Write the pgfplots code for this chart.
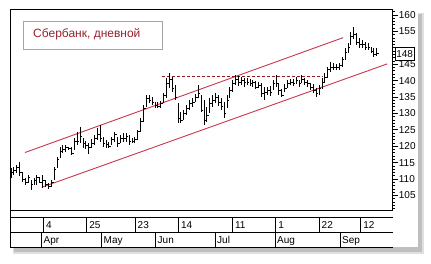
\documentclass[border=0pt]{standalone}
\usepackage{pgfplots}
\pgfplotsset{compat=1.18}
\usepackage{pgfplotstable}
\usepackage{fontspec}
\setmainfont{Liberation Sans}
\definecolor{chan}{RGB}{200,55,75}
\definecolor{dashc}{RGB}{140,30,30}
\definecolor{ttl}{RGB}{150,35,45}
\definecolor{boxg}{RGB}{165,165,165}
\pgfdeclareplotmark{ctick}{\pgfpathmoveto{\pgfqpoint{0pt}{0pt}}\pgfpathlineto{\pgfqpoint{2.2pt}{0pt}}\pgfusepathqstroke}
\pgfplotstableread{
i h l c
0 113.3 110.2 112.0
1 113.8 111.3 112.5
2 114.3 111.8 113.5
3 115.1 111.0 112.0
4 112.3 109.2 110.0
5 110.2 108.2 109.0
6 111.3 108.7 110.5
7 109.7 106.7 108.5
8 110.2 108.2 109.5
9 111.3 108.2 110.5
10 110.7 108.7 109.0
11 111.3 107.2 109.5
12 109.7 107.7 108.5
13 108.7 107.0 107.8
14 109.7 107.7 109.0
15 113.8 109.7 113.0
16 116.8 113.3 116.0
17 119.9 116.3 118.5
18 120.4 117.9 119.0
19 120.4 118.4 119.5
20 119.9 118.9 119.3
21 119.9 117.3 117.8
22 122.4 118.9 121.5
23 124.5 120.4 121.5
24 126.0 120.9 123.0
25 122.4 119.4 121.0
26 121.6 119.2 120.3
27 120.9 117.5 119.5
28 122.2 119.6 121.0
29 123.4 120.4 122.5
30 125.5 121.9 123.5
31 126.5 121.4 122.5
32 122.9 119.9 121.0
33 121.9 119.4 120.5
34 121.4 119.4 120.0
35 122.9 120.4 122.0
36 124.5 121.4 123.5
37 122.9 119.9 121.0
38 123.4 120.9 122.5
39 124.0 121.4 122.5
40 124.0 121.4 123.0
41 123.4 120.4 121.5
42 122.6 120.9 121.5
43 122.9 120.9 122.0
44 125.0 121.9 124.5
45 128.5 124.5 127.5
46 132.6 127.5 131.5
47 135.6 132.1 134.5
48 135.6 133.1 134.0
49 135.1 132.6 133.5
50 133.6 131.8 132.5
51 133.6 131.6 132.0
52 133.8 131.6 133.0
53 136.1 133.1 135.5
54 140.7 134.6 139.0
55 142.2 137.7 140.5
56 141.2 136.6 137.5
57 138.7 134.1 135.0
58 133.1 127.0 128.5
59 130.5 127.0 128.0
60 131.1 128.0 130.0
61 132.6 129.5 131.5
62 134.1 131.1 133.0
63 134.6 132.1 133.5
64 135.8 133.4 135.0
65 138.7 134.6 136.0
66 135.6 130.5 131.0
67 134.1 126.5 128.0
68 132.1 127.5 129.5
69 134.6 130.0 133.0
70 135.6 132.1 134.0
71 136.1 133.1 135.0
72 135.6 132.4 133.5
73 134.6 131.1 132.0
74 133.6 128.5 130.0
75 135.6 131.6 134.0
76 138.2 134.6 137.0
77 140.2 136.6 139.0
78 141.7 138.7 140.5
79 141.5 138.5 139.5
80 141.2 138.7 140.0
81 140.9 138.2 139.5
82 140.7 138.7 139.5
83 140.5 138.3 139.0
84 140.2 138.2 139.5
85 139.9 137.5 138.0
86 139.7 137.9 138.5
87 139.2 135.1 136.0
88 138.2 134.1 136.5
89 138.2 135.6 137.0
90 138.5 135.4 136.5
91 140.2 137.1 139.0
92 141.7 138.2 139.0
93 139.2 135.6 137.0
94 137.5 134.9 135.5
95 138.9 136.4 137.5
96 140.2 137.9 139.0
97 140.5 138.7 139.5
98 140.5 138.3 139.0
99 141.0 139.0 140.0
100 140.2 138.2 139.0
101 141.7 139.2 140.5
102 140.9 138.7 139.5
103 140.2 138.1 139.0
104 139.4 137.1 138.0
105 139.0 136.1 137.0
106 137.9 135.1 136.0
107 138.7 135.6 137.5
108 140.7 137.5 139.5
109 142.2 139.2 141.0
110 144.3 140.9 143.5
111 145.8 142.7 144.0
112 145.3 143.2 144.0
113 145.0 143.2 144.0
114 145.3 143.2 144.5
115 147.3 144.3 146.5
116 149.8 146.3 148.5
117 151.4 148.3 150.0
118 154.9 150.9 153.5
119 156.4 152.7 154.0
120 154.4 150.9 151.5
121 152.9 149.8 151.0
122 152.4 149.8 151.0
123 151.9 149.3 150.0
124 151.4 149.3 150.0
125 150.4 148.3 149.0
126 149.8 147.3 148.0
127 150.0 147.6 148.2
}\bars
\begin{document}
\begin{tikzpicture}[x=1pt,y=1pt]
\useasboundingbox (0,0) rectangle (431,263);
% shadow and panel
\fill[gray!25] (13,9) rectangle (424,250);
\fill[gray!50] (14,11) rectangle (422,249);
\fill[white] (10,16) rectangle (418,253.7);
% date table
\begin{scope}[line width=0.9pt]
\draw (10,46) -- (392.7,46);
\draw (10,31) -- (392.7,31);
\draw (10,16) -- (392.7,16);
\draw (10,16) -- (10,53);
\foreach \xx in {43.3,86.7,135,178.3,232.3,275.7,319,360.7} \draw (\xx,31) -- (\xx,46);
\foreach \xx in {41.7,101.7,155.7,215,275,340} \draw (\xx,16) -- (\xx,31);
\end{scope}
\begin{scope}[font=\fontsize{10}{10}\selectfont, inner sep=0pt, anchor=base west]
\node at (45.8,34.5) {4};
\node at (89.2,34.5) {25};
\node at (137.5,34.5) {23};
\node at (180.8,34.5) {14};
\node at (234.8,34.5) {11};
\node at (278.2,34.5) {1};
\node at (321.5,34.5) {22};
\node at (363.2,34.5) {12};
\node at (43.5,19.5) {Apr};
\node at (103.5,19.5) {May};
\node at (157.5,19.5) {Jun};
\node at (217,19.5) {Jul};
\node at (277,19.5) {Aug};
\node at (342,19.5) {Sep};
\end{scope}
\begin{axis}[at={(10pt,53pt)}, anchor=south west, scale only axis,
  width=382.7pt, height=200.7pt,
  xmin=-0.347, xmax=132.53, ymin=100.58, ymax=161.74,
  axis line style={line width=0.9pt},
  xtick=\empty,
  ytick={105,110,115,120,125,130,135,140,145,155,160}, minor ytick={101,...,161},
  extra y ticks={150}, extra y tick labels={},
  ytick pos=right, yticklabel pos=right,
  tick align=outside, major tick length=5pt, minor tick length=2.5pt,
  every tick/.style={black, line width=0.8pt},
  yticklabel style={font=\fontsize{10}{10}\selectfont, inner sep=1pt},
  /pgf/number format/assume math mode=true,
  clip=false]
\addplot[chan, line width=0.9pt] coordinates {(4.86,118.1) (115.3,153.1)};
\addplot[chan, line width=0.9pt] coordinates {(10.66,107.5) (130.6,145.1)};
\addplot[dashc, line width=0.8pt, dash pattern=on 3pt off 2pt] coordinates {(52.4,141.3) (108.3,141.3)};
\addplot[black, only marks, mark=ctick, mark options={line width=0.9pt},
  error bars/.cd, y dir=both, y explicit, error mark=none,
  error bar style={line width=0.9pt}]
  table[x=i, y=c, y error plus expr=\thisrow{h}-\thisrow{c}, y error minus expr=\thisrow{c}-\thisrow{l}] {\bars};
\node[draw=black, fill=white, line width=0.8pt, inner sep=1pt, anchor=west,
  font=\fontsize{10}{10}\selectfont, minimum height=13pt] at (axis cs:133.3,148) {148};
\end{axis}
% title box
\draw[boxg, fill=white, line width=0.8pt] (23,214) rectangle (162,242);
\node[ttl, anchor=west, inner sep=0pt, font=\fontsize{12}{12}\selectfont] at (33,229) {Сбербанк, дневной};
\end{tikzpicture}
\end{document}
